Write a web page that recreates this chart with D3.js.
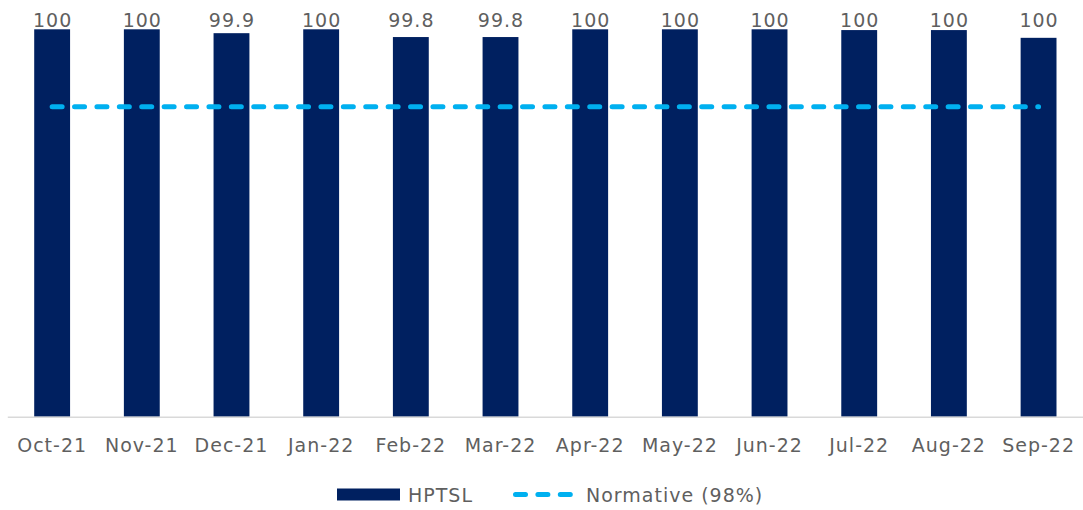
<!DOCTYPE html>
<html>
<head>
<meta charset="utf-8">
<script src="https://cdn.jsdelivr.net/npm/d3@7"></script>
<style>
  body { margin: 0; background: #fff; }
  svg { display: block; font-family: "DejaVu Sans", sans-serif; }
</style>
</head>
<body>
<svg id="chart" width="1083" height="510"></svg>
<script>
// data
var months = ['Oct-21','Nov-21','Dec-21','Jan-22','Feb-22','Mar-22','Apr-22','May-22','Jun-22','Jul-22','Aug-22','Sep-22'];
var hptsl = [100, 100, 99.9, 100, 99.8, 99.8, 100, 100, 100, 99.98, 99.98, 99.78];
var hptslLabels = ['100','100','99.9','100','99.8','99.8','100','100','100','100','100','100'];
var normative = [98, 98, 98, 98, 98, 98, 98, 98, 98, 98, 98, 98];
var yDomain = [90, 100];

var svg = d3.select('#chart');
var margin = { top: 29.3, right: 0, bottom: 93.3, left: 7.3 };
var width = 1083;
var height = 510;
var textColor = '#5f5f5f';

var x = d3.scaleBand()
          .domain(months)
          .range([margin.left, width - margin.right + 0.4])
          .paddingInner(0.6)
          .paddingOuter(0.3);

var y = d3.scaleLinear()
          .domain(yDomain)
          .range([height - margin.bottom, margin.top]);

// bars
svg.append('g')
  .selectAll('rect')
  .data(hptsl)
  .enter()
  .append('rect')
  .attr('x', (d, i) => x(months[i]))
  .attr('y', d => y(d))
  .attr('width', x.bandwidth())
  .attr('height', d => y(yDomain[0]) - y(d))
  .attr('fill', '#002060');

// baseline axis
svg.append('g')
  .attr('transform', 'translate(0,' + y(yDomain[0]) + ')')
  .call(d3.axisBottom(x).tickSize(0).tickPadding(22))
  .call(g => g.select('.domain').attr('stroke', '#d9d9d9').attr('stroke-width', 1.5))
  .call(g => g.selectAll('.tick text')
    .attr('fill', textColor)
    .attr('font-size', '19px')
    .attr('letter-spacing', '1px')
    .attr('font-family', '"DejaVu Sans", sans-serif'));

// value labels (Excel keeps them pinned at the top of the plot)
svg.append('g')
  .selectAll('text')
  .data(hptsl)
  .enter()
  .append('text')
  .attr('x', (d, i) => x(months[i]) + x.bandwidth() / 2 + 0.5)
  .attr('y', y(yDomain[1]) - 2.6)
  .attr('text-anchor', 'middle')
  .attr('fill', textColor)
  .attr('font-size', '19px')
  .attr('letter-spacing', '1px')
  .text((d, i) => hptslLabels[i]);

// normative dashed line
svg.append('path')
  .datum(normative)
  .attr('fill', 'none')
  .attr('stroke', '#00b0f0')
  .attr('stroke-width', 5)
  .attr('stroke-linecap', 'round')
  .attr('stroke-dasharray', '10,12.4')
  .attr('d', d3.line()
    .x((d, i) => x(months[i]) + x.bandwidth() / 2)
    .y(d => y(d)));

// legend
var legend = svg.append('g')
  .attr('font-size', '19px')
  .attr('letter-spacing', '1px')
  .attr('fill', textColor);
legend.append('rect')
  .attr('x', 337).attr('y', 488.5)
  .attr('width', 63).attr('height', 12)
  .attr('fill', '#002060');
legend.append('text')
  .attr('x', 408).attr('y', 501.5)
  .text('HPTSL');
legend.append('line')
  .attr('x1', 515.5).attr('x2', 572.5)
  .attr('y1', 494.5).attr('y2', 494.5)
  .attr('stroke', '#00b0f0')
  .attr('stroke-width', 5)
  .attr('stroke-linecap', 'round')
  .attr('stroke-dasharray', '10,12.4');
legend.append('text')
  .attr('x', 586).attr('y', 501.5)
  .text('Normative (98%)');
</script>
</body>
</html>
